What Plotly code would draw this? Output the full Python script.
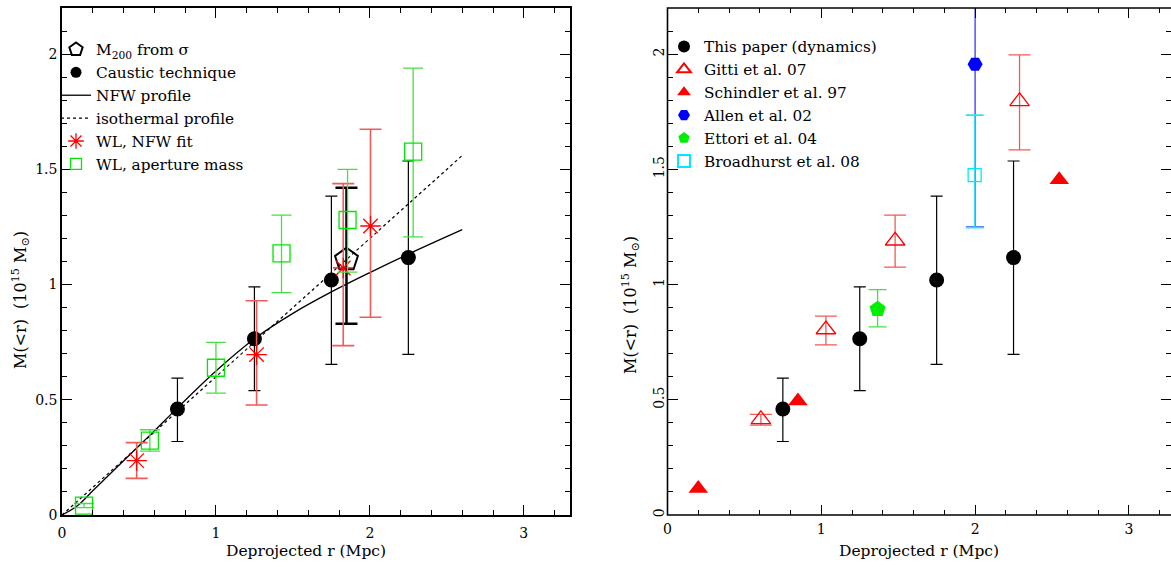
import plotly.graph_objects as go

# ---------------- data ----------------
# Left panel
caustic_r = [0.75, 1.25, 1.75, 2.25]
caustic_m = [0.46, 0.765, 1.02, 1.117]
caustic_up = [0.594, 0.99, 1.384, 1.536]
caustic_lo = [0.319, 0.54, 0.654, 0.697]

m200_r = [1.848]
m200_m = [1.108]
m200_up = [1.42]
m200_lo = [0.83]

wlnfw_r = [0.485, 1.264, 1.827, 2.004]
wlnfw_m = [0.236, 0.696, 1.072, 1.254]
wlnfw_up = [0.314, 0.93, 1.438, 1.674]
wlnfw_lo = [0.159, 0.477, 0.735, 0.858]

wlap_r = [0.143, 0.571, 1.0, 1.426, 1.855, 2.281]
wlap_m = [0.041, 0.323, 0.639, 1.135, 1.28, 1.577]
wlap_up = [0.05, 0.37, 0.749, 1.301, 1.5, 1.939]
wlap_lo = [0.032, 0.277, 0.529, 0.965, 1.054, 1.207]

nfw_r = [0, 0.1, 0.2, 0.3, 0.4, 0.5, 0.6, 0.75, 1.0, 1.25, 1.5, 1.75, 2.0, 2.25, 2.6]
nfw_m = [0, 0.04, 0.105, 0.17, 0.235, 0.30, 0.365, 0.465, 0.625, 0.765, 0.875, 0.968, 1.052, 1.132, 1.238]

iso_r = [0, 2.6]
iso_m = [0, 1.56]

# Right panel
gitti_r = [0.607, 1.03, 1.48, 2.289]
gitti_m = [0.415, 0.805, 1.19, 1.795]
gitti_up = [0.437, 0.863, 1.301, 1.997]
gitti_lo = [0.39, 0.738, 1.076, 1.584]

schindler_r = [0.2, 0.848, 2.547]
schindler_m = [0.115, 0.495, 1.455]

allen_r = [2.0]
allen_m = [1.956]
allen_up = [3.0]
allen_lo = [1.25]

ettori_r = [1.366]
ettori_m = [0.893]
ettori_up = [0.978]
ettori_lo = [0.816]

broad_r = [1.997]
broad_m = [1.475]
broad_up = [1.735]
broad_lo = [1.247]

x_ticks = [0, 1, 2, 3]
y_ticks = [0, 0.5, 1, 1.5, 2]
y_ticklabels = ["0", "0.5", "1", "1.5", "2"]

# ---------------- helpers ----------------
def plus(v, hi):
    return [h - x for x, h in zip(v, hi)]

def minus(v, lo):
    return [x - l for x, l in zip(v, lo)]

FONT = "DejaVu Serif"
W, H = 1171, 567
RED = "#ff0000"
RED_ERR = "#f25a5a"
GREEN = "#00e600"
GREEN_ERR = "#45e045"

fig = go.Figure()

# ---------- left panel ----------
m200_marker = dict(symbol="pentagon-open", color="black", line=dict(width=2, color="black"))
caustic_marker = dict(symbol="circle", color="black")
wlnfw_marker = dict(symbol="asterisk-open", color=RED, line=dict(width=1.3, color=RED))
wlap_marker = dict(symbol="square-open", color=GREEN, line=dict(width=1.3, color=GREEN))

fig.add_trace(go.Scatter(
    x=m200_r, y=m200_m, mode="markers", showlegend=False,
    marker=dict(m200_marker, size=24),
    error_y=dict(type="data", symmetric=False, array=plus(m200_m, m200_up),
                 arrayminus=minus(m200_m, m200_lo), color="black", thickness=2.5, width=11),
    xaxis="x", yaxis="y"))

fig.add_trace(go.Scatter(
    x=caustic_r, y=caustic_m, mode="markers", showlegend=False,
    marker=dict(caustic_marker, size=15),
    error_y=dict(type="data", symmetric=False, array=plus(caustic_m, caustic_up),
                 arrayminus=minus(caustic_m, caustic_lo), color="black", thickness=1.2, width=6),
    xaxis="x", yaxis="y"))

fig.add_trace(go.Scatter(
    x=nfw_r, y=nfw_m, mode="lines", name="NFW profile", legendrank=3,
    line=dict(color="black", width=1.3, shape="spline"),
    xaxis="x", yaxis="y", legend="legend"))

fig.add_trace(go.Scatter(
    x=iso_r, y=iso_m, mode="lines", name="isothermal profile", legendrank=4,
    line=dict(color="black", width=1.2, dash="dot"),
    xaxis="x", yaxis="y", legend="legend"))

fig.add_trace(go.Scatter(
    x=wlnfw_r, y=wlnfw_m, mode="markers", showlegend=False,
    marker=dict(wlnfw_marker, size=17),
    error_y=dict(type="data", symmetric=False, array=plus(wlnfw_m, wlnfw_up),
                 arrayminus=minus(wlnfw_m, wlnfw_lo), color=RED_ERR, thickness=1.6, width=11),
    xaxis="x", yaxis="y"))

fig.add_trace(go.Scatter(
    x=wlap_r, y=wlap_m, mode="markers", showlegend=False,
    marker=dict(wlap_marker, size=17),
    error_y=dict(type="data", symmetric=False, array=plus(wlap_m, wlap_up),
                 arrayminus=minus(wlap_m, wlap_lo), color=GREEN_ERR, thickness=1.3, width=10),
    xaxis="x", yaxis="y"))

# legend entries (smaller symbols, as in the reference key)
for name, mk, sz, rank in [("M<sub>200</sub> from σ", m200_marker, 14, 1),
                           ("Caustic technique", caustic_marker, 11, 2),
                           ("WL, NFW fit", wlnfw_marker, 13, 5),
                           ("WL, aperture mass", wlap_marker, 11, 6)]:
    fig.add_trace(go.Scatter(x=[None], y=[None], mode="markers", name=name, legendrank=rank,
                             marker=dict(mk, size=sz), xaxis="x", yaxis="y", legend="legend"))

# ---------- right panel ----------
fig.add_trace(go.Scatter(
    x=caustic_r, y=caustic_m, mode="markers", name="This paper (dynamics)",
    marker=dict(symbol="circle", size=15, color="black"),
    error_y=dict(type="data", symmetric=False, array=plus(caustic_m, caustic_up),
                 arrayminus=minus(caustic_m, caustic_lo), color="black", thickness=1.2, width=6),
    xaxis="x2", yaxis="y2", legend="legend2"))

fig.add_trace(go.Scatter(
    x=gitti_r, y=gitti_m, mode="markers", name="Gitti et al. 07",
    marker=dict(symbol="triangle-up-open", size=17, color=RED, line=dict(width=1.3, color=RED)),
    error_y=dict(type="data", symmetric=False, array=plus(gitti_m, gitti_up),
                 arrayminus=minus(gitti_m, gitti_lo), color=RED_ERR, thickness=1.3, width=11),
    xaxis="x2", yaxis="y2", legend="legend2"))

fig.add_trace(go.Scatter(
    x=schindler_r, y=schindler_m, mode="markers", name="Schindler et al. 97",
    marker=dict(symbol="triangle-up", size=17, color=RED),
    xaxis="x2", yaxis="y2", legend="legend2"))

fig.add_trace(go.Scatter(
    x=allen_r, y=allen_m, mode="markers", name="Allen et al. 02",
    marker=dict(symbol="hexagon2", size=15, color="#0000ff"),
    error_y=dict(type="data", symmetric=False, array=plus(allen_m, allen_up),
                 arrayminus=minus(allen_m, allen_lo), color="#3a3af5", thickness=1.3, width=9),
    xaxis="x2", yaxis="y2", legend="legend2"))

fig.add_trace(go.Scatter(
    x=ettori_r, y=ettori_m, mode="markers", name="Ettori et al. 04",
    marker=dict(symbol="pentagon", size=17, color="#00ee00"),
    error_y=dict(type="data", symmetric=False, array=plus(ettori_m, ettori_up),
                 arrayminus=minus(ettori_m, ettori_lo), color=GREEN_ERR, thickness=1.3, width=9),
    xaxis="x2", yaxis="y2", legend="legend2"))

fig.add_trace(go.Scatter(
    x=broad_r, y=broad_m, mode="markers", name="Broadhurst et al. 08",
    marker=dict(symbol="square-open", size=13, color="#00e8ff", line=dict(width=1.3, color="#00e8ff")),
    error_y=dict(type="data", symmetric=False, array=plus(broad_m, broad_up),
                 arrayminus=minus(broad_m, broad_lo), color="#38dcff", thickness=1.6, width=9),
    xaxis="x2", yaxis="y2", legend="legend2"))

# ---------------- axes ----------------
x0L, x1L = 62 / W, 570 / W
x0R = 667.5 / W
yb, yt = (H - 515) / H, (H - 8) / H
px_per_unit = 153.8
xr_right = (W - 667.5) / px_per_unit

tickfont = dict(family=FONT, size=14, color="black")

def xax(domain, rng, anchor, showline=True):
    return dict(domain=domain, range=rng, anchor=anchor, showgrid=False, zeroline=False,
                showline=showline, linecolor="black", linewidth=1.6, mirror="allticks",
                ticks="inside", ticklen=10, tickwidth=1.3, tickcolor="black",
                tickvals=x_ticks, ticktext=[str(t) for t in x_ticks], tickfont=tickfont,
                ticklabelstandoff=4, automargin=False,
                minor=dict(dtick=0.2, tick0=0, ticks="inside", ticklen=5, tickwidth=1.1,
                           tickcolor="black", showgrid=False))

def yax(rng, anchor, angle, showline=True):
    return dict(domain=[yb, yt], range=rng, anchor=anchor, showgrid=False, zeroline=False,
                showline=showline, linecolor="black", linewidth=1.6, mirror="allticks",
                ticks="inside", ticklen=10, tickwidth=1.3, tickcolor="black",
                tickvals=y_ticks, ticktext=y_ticklabels, tickfont=tickfont, tickangle=angle,
                automargin=False,
                minor=dict(dtick=0.1, tick0=0, ticks="inside", ticklen=5, tickwidth=1.1,
                           tickcolor="black", showgrid=False))

legfont = dict(family=FONT, size=15.3, color="black")
titlefont = dict(family=FONT, size=15.5, color="black")

fig.update_layout(
    width=W, height=H,
    margin=dict(l=0, r=0, t=0, b=0, autoexpand=False),
    paper_bgcolor="white", plot_bgcolor="white",
    xaxis=xax([x0L, x1L], [0, 3.3], "y"),
    yaxis=yax([0, 2.2], "x", 0),
    xaxis2=xax([x0R, 1.0], [0, xr_right], "y2", showline=False),
    yaxis2=yax([0, 2.2], "x2", -90, showline=False),
    legend=dict(x=56 / W, y=(H - 33) / H, xanchor="left", yanchor="top",
                bgcolor="rgba(0,0,0,0)", font=legfont, itemsizing="trace",
                tracegroupgap=0, itemwidth=30),
    legend2=dict(x=664 / W, y=(H - 30) / H, xanchor="left", yanchor="top",
                 bgcolor="rgba(0,0,0,0)", font=legfont, itemsizing="constant",
                 tracegroupgap=0, itemwidth=30),
    shapes=[dict(type="rect", xref="x2 domain", yref="y2 domain", x0=0, x1=1.02, y0=0, y1=1,
                 line=dict(color="black", width=1.6), layer="above")],
    annotations=[
        dict(text="Deprojected r (Mpc)", xref="paper", yref="paper", x=306 / W, y=(H - 551) / H,
             xanchor="center", yanchor="middle", showarrow=False, font=titlefont),
        dict(text="Deprojected r (Mpc)", xref="paper", yref="paper", x=919 / W, y=(H - 551) / H,
             xanchor="center", yanchor="middle", showarrow=False, font=titlefont),
        dict(text="M(&lt;r)  (10<sup>15</sup> M<sub>⊙</sub>)", xref="paper", yref="paper",
             x=20 / W, y=(H - 300) / H, xanchor="center", yanchor="middle",
             textangle=-90, showarrow=False, font=dict(titlefont, size=16)),
        dict(text="M(&lt;r)  (10<sup>15</sup> M<sub>⊙</sub>)", xref="paper", yref="paper",
             x=630 / W, y=(H - 305) / H, xanchor="center", yanchor="middle",
             textangle=-90, showarrow=False, font=dict(titlefont, size=16)),
    ],
)

fig.write_html("out.html", config={"displayModeBar": False},
               post_script="document.body.style.margin='0px';")
